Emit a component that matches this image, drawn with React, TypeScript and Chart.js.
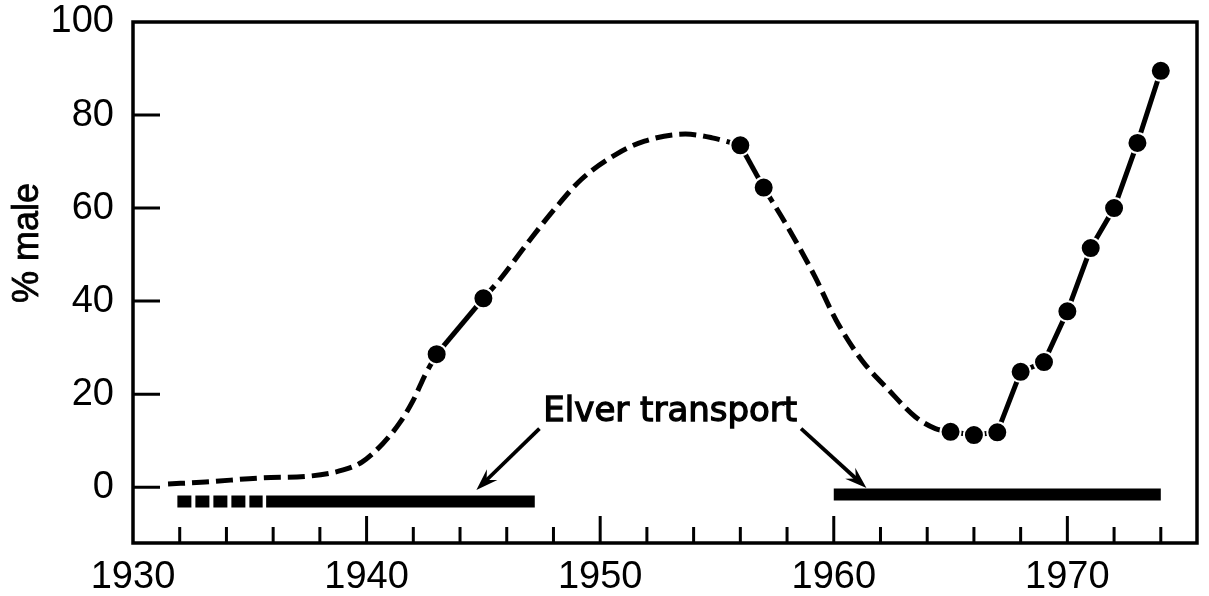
import React, { useEffect, useRef } from 'react';
import { Chart, registerables } from 'chart.js';

Chart.register(...registerables);

// ---------------- data ----------------
const xLabelYears = [1930, 1940, 1950, 1960, 1970];
const yLabelValues = [0, 20, 40, 60, 80, 100];
const xTickYears = [1932, 1934, 1936, 1938, 1940, 1942, 1944, 1946, 1948, 1950, 1952, 1954, 1956, 1958, 1960, 1962, 1964, 1966, 1968, 1970, 1972, 1974];
const yTickValues = [0, 20, 40, 60, 80];

// observed yearly samples (filled dots)
const obsYears = [1943, 1945, 1956, 1957, 1965, 1966, 1967, 1968, 1969, 1970, 1971, 1972, 1973, 1974];
const obsMale = [28.6, 40.6, 73.5, 64.4, 11.9, 11.2, 11.8, 24.8, 26.9, 37.8, 51.4, 60.0, 74.0, 89.5];

// hand-drawn dashed trend between samples
const curveAYears = [1931.5, 1933.1, 1935.5, 1937.6, 1939.0, 1939.8, 1940.7, 1941.4, 1942.0, 1942.5, 1943];
const curveAMale = [0.7, 1.1, 2.0, 2.4, 3.7, 5.4, 9.4, 13.7, 18.7, 24.1, 28.6];
const curveBYears = [1945, 1945.7, 1947.0, 1948.1, 1949.2, 1950.7, 1951.9, 1953.65, 1954.8, 1956];
const curveBMale = [40.6, 44.6, 53.2, 60.1, 66.2, 71.6, 74.4, 75.9, 75.1, 73.5];
const curveCYears = [1957, 1958.1, 1959.2, 1960.1, 1961.2, 1962.35, 1963.5, 1964.35, 1965];
const curveCMale = [64.4, 55.3, 45.2, 35.9, 27.3, 20.9, 15.1, 12.6, 11.9];

// elver transport periods
const transportUncertainYears = [1931.9, 1935.55];
const transportEarlyYears = [1935.7, 1947.2];
const transportLateYears = [1960.0, 1974.0];
const transportEarlyLevel = -3.1;
const transportLateLevel = -1.6;

const yAxisTitle = '% male';
const annotationLabel = 'Elver transport';

// annotation anchors in data units [year, value]
const labelAnchor = [1953.0, 14.2];
const arrowLeft = [[1947.4, 12.6], [1944.7, -0.6]];
const arrowRight = [[1958.6, 12.6], [1961.4, -0.2]];
const titleAnchorValue = 52.5;

const pts = (xs: number[], ys: number[]) => xs.map((x, i) => ({ x, y: ys[i] }));
const flat = (xs: number[], v: number) => xs.map((x) => ({ x, y: v }));

function drawArrow(ctx: CanvasRenderingContext2D, x0: number, y0: number, x1: number, y1: number) {
  const ang = Math.atan2(y1 - y0, x1 - x0);
  const L = 22;
  const W = 7.5;
  const bx = x1 - L * Math.cos(ang);
  const by = y1 - L * Math.sin(ang);
  ctx.beginPath();
  ctx.moveTo(x0, y0);
  ctx.lineTo(x1 - 0.6 * L * Math.cos(ang), y1 - 0.6 * L * Math.sin(ang));
  ctx.stroke();
  ctx.beginPath();
  ctx.moveTo(x1, y1);
  ctx.lineTo(bx + W * Math.sin(ang), by - W * Math.cos(ang));
  ctx.lineTo(x1 - 0.65 * L * Math.cos(ang), y1 - 0.65 * L * Math.sin(ang));
  ctx.lineTo(bx - W * Math.sin(ang), by + W * Math.cos(ang));
  ctx.closePath();
  ctx.fill();
}

const framePlugin = {
  id: 'frameAndNotes',
  afterDraw(chart: any) {
    const { ctx, chartArea: a, scales } = chart;
    const xs = scales.x;
    const ys = scales.y;
    ctx.save();
    ctx.strokeStyle = '#000';
    ctx.fillStyle = '#000';
    ctx.lineWidth = 3.5;
    ctx.strokeRect(a.left, a.top, a.right - a.left, a.bottom - a.top);

    ctx.lineWidth = 3;
    ctx.beginPath();
    for (const v of xTickYears) {
      const px = xs.getPixelForValue(v);
      const len = v % 10 === 0 ? 27 : 16;
      ctx.moveTo(px, a.bottom);
      ctx.lineTo(px, a.bottom - len);
    }
    for (const v of yTickValues) {
      const py = ys.getPixelForValue(v);
      ctx.moveTo(a.left, py);
      ctx.lineTo(a.left + 27, py);
    }
    ctx.stroke();

    // annotation label
    ctx.font = '34px "DejaVu Sans"';
    ctx.textAlign = 'center';
    ctx.textBaseline = 'alphabetic';
    const lx = xs.getPixelForValue(labelAnchor[0]);
    const ly = ys.getPixelForValue(labelAnchor[1]);
    ctx.lineWidth = 1.3;
    ctx.fillText(annotationLabel, lx, ly);
    ctx.strokeText(annotationLabel, lx, ly);

    ctx.lineWidth = 3.8;
    for (const arr of [arrowLeft, arrowRight]) {
      drawArrow(
        ctx,
        xs.getPixelForValue(arr[0][0]),
        ys.getPixelForValue(arr[0][1]),
        xs.getPixelForValue(arr[1][0]),
        ys.getPixelForValue(arr[1][1])
      );
    }

    // y-axis title
    ctx.save();
    ctx.translate(28, ys.getPixelForValue(titleAnchorValue));
    ctx.rotate(-Math.PI / 2);
    ctx.font = '36px "Liberation Sans"';
    ctx.textAlign = 'center';
    ctx.textBaseline = 'middle';
    ctx.lineWidth = 0.8;
    ctx.fillText(yAxisTitle, 0, 0);
    ctx.strokeText(yAxisTitle, 0, 0);
    ctx.restore();

    ctx.restore();
  },
};

const tickFont = { family: 'Liberation Sans', size: 38, lineHeight: 1 };

export default function App() {
  const ref = useRef<HTMLCanvasElement | null>(null);

  useEffect(() => {
    if (!ref.current) return;
    const dashStyle = { borderColor: '#000', borderWidth: 5, borderDash: [17, 7], pointRadius: 0, cubicInterpolationMode: 'monotone', fill: false, order: 2 };
    const barStyle = { borderColor: '#000', borderWidth: 12, borderCapStyle: 'butt', pointRadius: 0, fill: false, order: 3 };
    const chart = new Chart(ref.current, {
      type: 'line',
      data: {
        datasets: [
          {
            label: 'observed',
            data: pts(obsYears, obsMale),
            borderColor: '#000',
            borderWidth: 5,
            pointRadius: 10,
            pointBackgroundColor: '#000',
            pointBorderColor: '#fff',
            pointBorderWidth: 2,
            tension: 0,
            fill: false,
            order: 0,
            segment: {
              borderColor: (c: any) => (c.p1.parsed.x - c.p0.parsed.x > 5 ? 'rgba(0,0,0,0)' : '#000'),
            },
          } as any,
          { label: 'trend A', data: pts(curveAYears, curveAMale), ...dashStyle } as any,
          { label: 'trend B', data: pts(curveBYears, curveBMale), ...dashStyle } as any,
          { label: 'trend C', data: pts(curveCYears, curveCMale), ...dashStyle } as any,
          { label: 'transport (uncertain)', data: flat(transportUncertainYears, transportEarlyLevel), ...barStyle, borderDash: [14, 4] } as any,
          { label: 'transport early', data: flat(transportEarlyYears, transportEarlyLevel), ...barStyle } as any,
          { label: 'transport late', data: flat(transportLateYears, transportLateLevel), ...barStyle } as any,
        ],
      },
      options: {
        responsive: false,
        animation: false,
        events: [],
        layout: { padding: { top: 22, right: 9, left: 0, bottom: 0 } },
        plugins: { legend: { display: false }, tooltip: { enabled: false } },
        scales: {
          x: {
            type: 'linear',
            min: 1930,
            max: 1975.55,
            grid: { display: false },
            border: { display: false },
            afterBuildTicks: (s: any) => {
              s.ticks = xLabelYears.map((v) => ({ value: v }));
            },
            afterFit: (s: any) => {
              s.height = 53;
              s.paddingLeft = 0;
              s.paddingRight = 0;
            },
            ticks: {
              callback: (v: any) => String(v),
              color: '#000',
              font: tickFont,
              padding: 8,
              maxRotation: 0,
              autoSkip: false,
            },
          },
          y: {
            type: 'linear',
            min: -12,
            max: 100,
            grid: { display: false },
            border: { display: false },
            afterBuildTicks: (s: any) => {
              s.ticks = yLabelValues.map((v) => ({ value: v }));
            },
            afterFit: (s: any) => {
              s.width = 133;
              s.paddingTop = 0;
              s.paddingBottom = 0;
            },
            ticks: {
              callback: (v: any) => String(v),
              color: '#000',
              font: tickFont,
              padding: 11,
            },
          },
        },
      } as any,
      plugins: [framePlugin],
    });
    return () => chart.destroy();
  }, []);

  return (
    <div style={{ position: 'absolute', left: 0, top: 0, width: 1209, height: 596, background: '#fff' }}>
      <canvas ref={ref} width={1209} height={596} style={{ display: 'block' }} />
    </div>
  );
}
